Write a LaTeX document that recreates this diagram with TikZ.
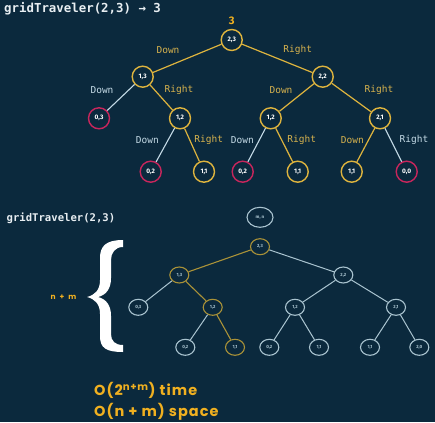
\documentclass[tikz,border=0pt]{standalone}
\usepackage{fontspec}
\setmainfont{Fira Sans}
\newfontfamily\monof{DejaVu Sans Mono}
\newfontfamily\popf{Poppins}
\newfontfamily\popfs[LetterSpace=7]{Poppins}
\usetikzlibrary{shapes.geometric}
\definecolor{bg}{RGB}{11,41,61}
\definecolor{gold}{RGB}{222,180,62}
\definecolor{goldtxt}{RGB}{214,178,78}
\definecolor{brightgold}{RGB}{240,176,32}
\definecolor{crim}{RGB}{200,38,92}
\definecolor{pale}{RGB}{196,218,230}
\definecolor{dimline}{RGB}{170,196,208}
\definecolor{dimgold}{RGB}{170,146,56}
\definecolor{titlec}{RGB}{232,238,242}
\tikzset{
  tn/.style={circle,draw=gold,line width=1.4pt,fill=bg,minimum size=21pt,inner sep=0pt,text=white,font=\fontsize{6.5}{7}\selectfont\bfseries},
  tnr/.style={tn,draw=crim},
  ge/.style={draw=gold,line width=1.2pt},
  we/.style={draw=pale,line width=1.1pt},
  lg/.style={text=goldtxt,font=\monof\fontsize{9.5}{10}\selectfont},
  lw/.style={text=pale,font=\monof\fontsize{9.5}{10}\selectfont},
  bn/.style={ellipse,draw=dimline,line width=1.1pt,fill=bg,minimum width=19pt,minimum height=16pt,inner sep=0pt,text=dimline,font=\fontsize{4.5}{5}\selectfont\bfseries},
  bng/.style={bn,draw=dimgold},
  be/.style={draw=dimline,line width=1pt},
  bge/.style={draw=dimgold,line width=1.1pt},
  cplx/.style={anchor=west,inner sep=0pt,text=brightgold,font=\popfs\bfseries\fontsize{14.5}{15}\selectfont},
}
\begin{document}
\begin{tikzpicture}[x=1pt,y=-1pt]
\useasboundingbox (0,0) rectangle (435,422);
\fill[bg] (0,0) rectangle (435,422);
% title
\node[anchor=west,inner sep=0pt,text=titlec,font=\monof\bfseries\fontsize{12.4}{13}\selectfont] (title) at (4,8.5) {gridTraveler(2,3) → 3};
% top tree
\node[tn] (r) at (231.7,40) {2,3};
\node[text=brightgold,font=\bfseries\fontsize{11}{12}\selectfont,inner sep=0pt] (res) at (231.7,20.5) {3};
\node[tn] (a) at (142.7,76.7) {1,3};
\node[tn] (b) at (322.7,76.7) {2,2};
\node[tnr] (c) at (99,118.3) {0,3};
\node[tn] (d) at (180,118.3) {1,2};
\node[tn] (e) at (270.7,118.3) {1,2};
\node[tn] (f) at (380,118.3) {2,1};
\node[tnr] (g1) at (150.7,171.7) {0,2};
\node[tn] (g2) at (204,171.7) {1,1};
\node[tnr] (g3) at (242.7,171.7) {0,2};
\node[tn] (g4) at (297.7,171.7) {1,1};
\node[tn] (g5) at (351.7,171.7) {1,1};
\node[tnr] (g6) at (406.7,171.7) {0,0};
\draw[ge] (r) -- (a);
\draw[ge] (r) -- (b);
\draw[we] (a) -- (c);
\draw[ge] (a) -- (d);
\draw[ge] (b) -- (e);
\draw[ge] (b) -- (f);
\draw[we] (d) -- (g1);
\draw[ge] (d) -- (g2);
\draw[we] (e) -- (g3);
\draw[ge] (e) -- (g4);
\draw[ge] (f) -- (g5);
\draw[we] (f) -- (g6);
\node[lg] (l1) at (168,50) {Down};
\node[lg] (l2) at (297.7,50) {Right};
\node[lw] (l3) at (102,90) {Down};
\node[lg] (l4) at (179,90) {Right};
\node[lg] (l5) at (281,90) {Down};
\node[lg] (l6) at (379,90) {Right};
\node[lw] (l7) at (147.3,140) {Down};
\node[lg] (l8) at (208.7,140) {Right};
\node[lw] (l9) at (242.3,140) {Down};
\node[lg] (l10) at (301.7,140) {Right};
\node[lg] (l11) at (352.3,140) {Down};
\node[lw] (l12) at (414,140) {Right};
% bottom section
\node[anchor=west,inner sep=0pt,text=titlec,font=\monof\bfseries\fontsize{10.6}{11}\selectfont] (title2) at (6.5,218.3) {gridTraveler(2,3)};
\node[bn,minimum width=26pt,minimum height=20pt] (M) at (260,217.3) {m, n};
\node[bng] (R) at (260,246.7) {2,3};
\node[bng] (A) at (179.3,275) {1,3};
\node[bn] (B) at (343.3,275) {2,2};
\node[bn] (C) at (138.3,307.3) {0,3};
\node[bng] (D) at (212.7,307.3) {1,2};
\node[bn] (E) at (295,307.3) {1,2};
\node[bn] (F) at (396,307.3) {2,1};
\node[bn] (G1) at (185.3,347.3) {0,2};
\node[bng] (G2) at (235,347.3) {1,1};
\node[bn] (G3) at (269.3,347.3) {0,2};
\node[bn] (G4) at (319,347.3) {1,1};
\node[bn] (G5) at (370,347.3) {1,1};
\node[bn] (G6) at (419.3,347.3) {2,0};
\draw[bge] (R) -- (A);
\draw[be] (R) -- (B);
\draw[be] (A) -- (C);
\draw[bge] (A) -- (D);
\draw[be] (B) -- (E);
\draw[be] (B) -- (F);
\draw[be] (D) -- (G1);
\draw[bge] (D) -- (G2);
\draw[be] (E) -- (G3);
\draw[be] (E) -- (G4);
\draw[be] (F) -- (G5);
\draw[be] (F) -- (G6);
% brace
\fill[white]
  (123,240) .. controls (106,240) and (100,246) .. (100,258)
  -- (100,280) .. controls (100,290) and (95,295) .. (87,297)
  .. controls (95,299) and (100,304) .. (100,314)
  -- (100,336) .. controls (100,348) and (106,352) .. (123,352)
  -- (123,345) .. controls (115,345) and (111,341) .. (111,334)
  -- (111,316) .. controls (111,305) and (106,299) .. (98,297)
  .. controls (106,295) and (111,289) .. (111,278)
  -- (111,260) .. controls (111,253) and (115,247) .. (123,247)
  -- cycle;
\node[text=brightgold,font=\popf\bfseries\fontsize{7.5}{8}\selectfont,inner sep=0pt] (nm) at (63.5,297.7) {n\hspace{4pt}+\hspace{4pt}m};
% complexity
\node[cplx] (t1) at (94,390.5) {O(2\textsuperscript{n+m}) time};
\node[cplx] (t2) at (94,412) {O(n + m) space};
\end{tikzpicture}
\end{document}
